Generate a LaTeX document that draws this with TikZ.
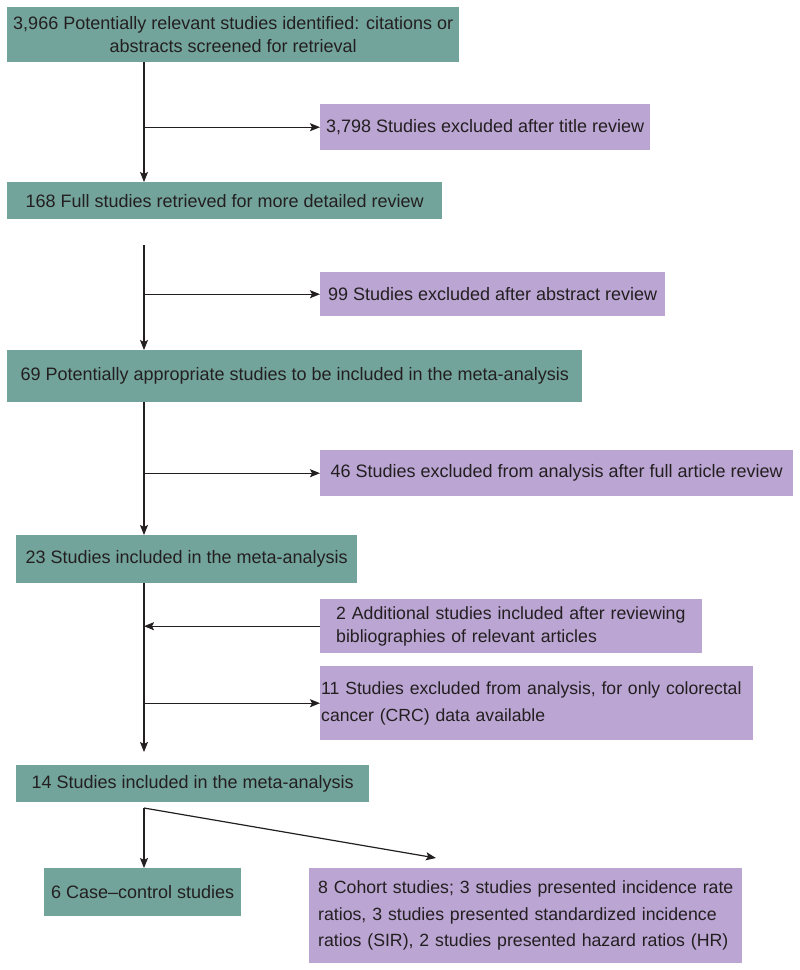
\documentclass[tikz,border=0pt]{standalone}
\usepackage{fontspec}
\setmainfont{Liberation Sans}
\usetikzlibrary{arrows.meta}
\definecolor{tealc}{HTML}{73A49B}
\definecolor{purpc}{HTML}{BBA5D3}
\definecolor{txt}{HTML}{231F20}
\tikzset{
  box/.style={draw=none, inner sep=0pt, anchor=north west, text=txt,
    font=\fontsize{18}{23}\selectfont},
  tealbox/.style={box, fill=tealc},
  purpbox/.style={box, fill=purpc},
  arr/.style={draw=txt, line width=1.2pt, -{Stealth[length=10pt,width=8pt,inset=2pt]}},
}
\begin{document}
\begin{tikzpicture}[x=1pt,y=-1pt]
\useasboundingbox (0,0) rectangle (800,970);
\coordinate (sp) at (144,0);
% boxes
\node[tealbox, minimum width=452pt, minimum height=55pt, align=center] (b1) at (7,7)
  {3,966 Potentially relevant studies identified: citations or\\abstracts screened for retrieval};
\node[purpbox, minimum width=330pt, minimum height=46pt, align=center] (p1) at (320,104)
  {3,798 Studies excluded after title review};
\node[tealbox, minimum width=435pt, minimum height=37pt, align=center] (b2) at (7,182)
  {168 Full studies retrieved for more detailed review};
\node[purpbox, minimum width=345pt, minimum height=44pt, align=center] (p2) at (320,272)
  {99 Studies excluded after abstract review};
\node[tealbox, minimum width=575pt, minimum height=52pt, align=center] (b3) at (7,350)
  {69 Potentially appropriate studies to be included in the meta-analysis};
\node[purpbox, minimum width=473pt, minimum height=46pt, align=center] (p3) at (320,450)
  {46 Studies excluded from analysis after full article review};
\node[tealbox, minimum width=341pt, minimum height=48pt, align=center] (b4) at (16,535)
  {23 Studies included in the meta-analysis};
\node[purpbox, minimum height=54pt, text width=350pt, inner xsep=16pt, align=left,
  font=\fontsize{17.7}{23}\selectfont] (p4) at (320,599)
  {\mbox{2 Additional studies included after reviewing}\\\mbox{bibliographies of relevant articles}};
\node[purpbox, minimum height=74pt, text width=431pt, inner xsep=1pt, align=left,
  font=\fontsize{17.6}{27}\selectfont] (p5) at (320,666)
  {\mbox{11 Studies excluded from analysis, for only colorectal}\\\mbox{cancer (CRC) data available}};
\node[tealbox, minimum width=353pt, minimum height=37pt, align=center] (b5) at (16,765)
  {14 Studies included in the meta-analysis};
\node[tealbox, minimum width=197pt, minimum height=48pt, align=center] (b6) at (44,868)
  {6 Case--control studies};
\node[purpbox, minimum height=95pt, text width=415pt, inner xsep=9pt, align=left,
  font=\fontsize{17.7}{26.5}\selectfont] (p6) at (309,868)
  {\mbox{8 Cohort studies; 3 studies presented incidence rate}\\\mbox{ratios, 3 studies presented standardized incidence}\\\mbox{ratios (SIR), 2 studies presented hazard ratios (HR)}};
% free ends
\coordinate (g2) at (144,245);
\coordinate (e5) at (144,752);
\coordinate (s6) at (144,808);
\coordinate (d6) at (436,858);
% connectors
\draw[arr] (b1.south -| sp) -- (b2.north -| sp);
\draw[arr] (p1.west -| sp) -- (p1.west);
\draw[arr] (g2) -- (b3.north -| sp);
\draw[arr] (p2.west -| sp) -- (p2.west);
\draw[arr] (b3.south -| sp) -- (b4.north -| sp);
\draw[arr] (p3.west -| sp) -- (p3.west);
\draw[arr] (b4.south -| sp) -- (e5);
\draw[arr] (p4.west) -- (p4.west -| sp);
\draw[arr] (p5.west -| sp) -- (p5.west);
\draw[arr] (s6) -- (b6.north -| sp);
\draw[arr] (s6) -- (d6);
\end{tikzpicture}
\end{document}
